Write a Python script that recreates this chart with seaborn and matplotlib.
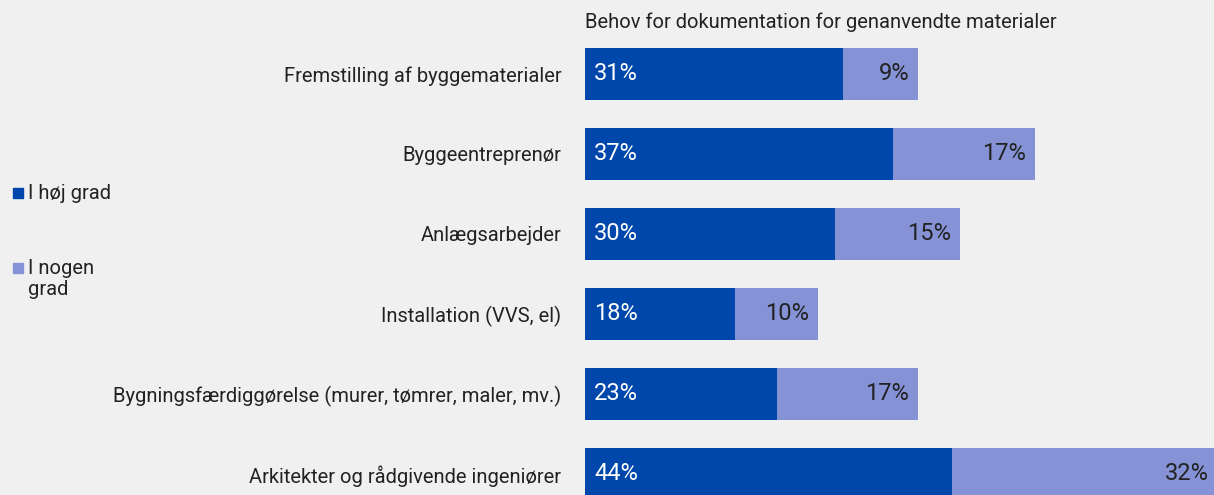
import matplotlib
matplotlib.use("Agg")
import matplotlib.pyplot as plt
from matplotlib.patches import Rectangle
import seaborn as sns
import pandas as pd

categories = [
    "Fremstilling af byggematerialer",
    "Byggeentreprenør",
    "Anlægsarbejder",
    "Installation (VVS, el)",
    "Bygningsfærdiggørelse (murer, tømrer, maler, mv.)",
    "Arkitekter og rådgivende ingeniører",
]
hoej_grad = [31, 37, 30, 18, 23, 44]
nogen_grad = [9, 17, 15, 10, 17, 32]
series_names = ["I høj grad", "I nogen\ngrad"]
title = "Behov for dokumentation for genanvendte materialer"

dark = "#0047AB"
light = "#8593D6"
bg = "#F0F0F0"
txt = "#222222"

sns.set_theme(style="white")
plt.rcParams["font.family"] = ["Roboto", "DejaVu Sans"]

df = pd.DataFrame({"kategori": categories, "hoej": hoej_grad, "nogen": nogen_grad})
df["total"] = df["hoej"] + df["nogen"]

fig = plt.figure(figsize=(12.14, 4.95), dpi=100, facecolor=bg)
ax = fig.add_axes([585 / 1214, 0, 1 - 585 / 1214, 1])
ax.set_facecolor(bg)

sns.barplot(data=df, y="kategori", x="total", color=light, width=0.65,
            orient="h", ax=ax, saturation=1, linewidth=0)
sns.barplot(data=df, y="kategori", x="hoej", color=dark, width=0.65,
            orient="h", ax=ax, saturation=1, linewidth=0)

ax.set_xlim(0, 629 / 8.33)
ax.set_ylim(5 + 21 / 80, -74 / 80)
for s in ax.spines.values():
    s.set_visible(False)
ax.set_xticks([])
ax.set_xlabel("")
ax.set_ylabel("")
ax.tick_params(axis="y", length=0, pad=17, labelsize=14.5, labelcolor=txt)

for i, (h, n) in enumerate(zip(hoej_grad, nogen_grad)):
    ax.text(1.1, i, f"{h}%", color="white", ha="left", va="center", fontsize=17)
    ax.text(h + n - 1.1, i, f"{n}%", color=txt, ha="right", va="center", fontsize=17)

fig.text(585 / 1214, 1 - 22 / 495, title, ha="left", va="center",
         fontsize=14.5, color=txt)

# legend
for y, col in [(193, dark), (268, light)]:
    fig.patches.append(Rectangle((13 / 1214, 1 - (y + 5) / 495), 10 / 1214, 10 / 495,
                                 transform=fig.transFigure, color=col, figure=fig))
fig.text(28 / 1214, 1 - 193 / 495, series_names[0], ha="left", va="center",
         fontsize=14.5, color=txt)
fig.text(28 / 1214, 1 - 279 / 495, series_names[1], ha="left", va="center",
         fontsize=14.5, color=txt, linespacing=1.15)

fig.savefig("out.png", dpi=100, facecolor=bg)
